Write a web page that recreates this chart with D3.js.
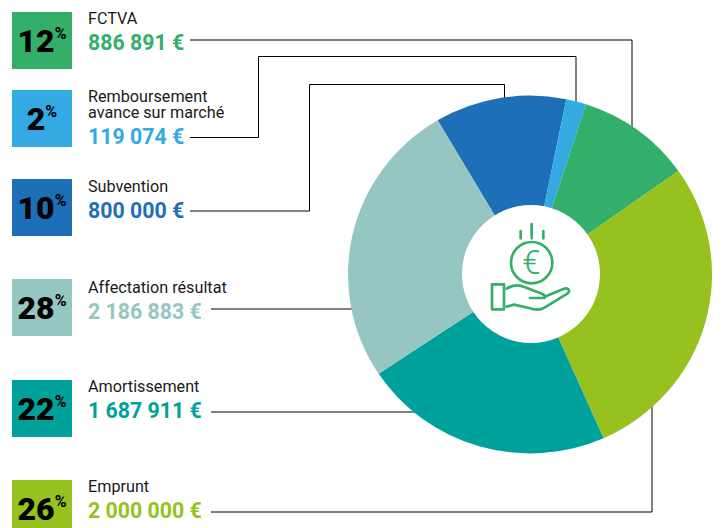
<!DOCTYPE html>
<html>
<head>
<meta charset="utf-8">
<script src="https://cdn.jsdelivr.net/npm/d3@7"></script>
<style>
  html, body { margin: 0; padding: 0; background: #fff; overflow: hidden; }
  text { font-family: Roboto, sans-serif; }
</style>
</head>
<body>
<script>
// legend rows
const labels = [["FCTVA"], ["Remboursement", "avance sur marché"], ["Subvention"], ["Affectation résultat"], ["Amortissement"], ["Emprunt"]];
const amounts = ["886 891 €", "119 074 €", "800 000 €", "2 186 883 €", "1 687 911 €", "2 000 000 €"];
const percents = [12, 2, 10, 28, 22, 26];
const legendColors = ["#33af6a", "#35a9e1", "#1d6fb7", "#95c6c1", "#00a19a", "#96c11f"];

// pie slices, clockwise from the dark blue one (shares)
const sliceShares = [11.67, 1.78, 10.2, 28.2, 22.25, 25.9];
const sliceColors = ["#1d6fb7", "#35a9e1", "#33af6a", "#96c11f", "#00a19a", "#95c6c1"];

const width = 728;
const height = 528;
const svg = d3.select("body").append("svg")
    .attr("width", width)
    .attr("height", height)
    .style("display", "block");

// top of each legend box, then the baselines of its texts
const rowTop = [12, 90, 179, 279, 380, 480];
const labelY = [24, 102, 192, 292.5, 392, 492];
const amountY = [50, 143.5, 217.5, 318.5, 417.5, 517.5];
const boxW = 60;
const boxH = 57;

// leader lines go first, the pie covers their ends
const leaders = [
    [[190, 40], [632, 40], [632, 130]],
    [[190, 137.5], [258.5, 137.5], [258.5, 56.5], [576, 56.5], [576, 110]],
    [[190, 211], [309.5, 211], [309.5, 84.5], [504.5, 84.5], [504.5, 110]],
    [[211, 309], [360, 309]],
    [[211, 412], [425, 412]],
    [[211, 512], [652, 512], [652, 400]]
];
const line = d3.line();
svg.selectAll(".leader")
    .data(leaders)
    .enter()
    .append("path")
    .attr("class", "leader")
    .attr("d", line)
    .attr("fill", "none")
    .attr("stroke", "#000")
    .attr("stroke-width", 1);

// pie
const cx = 530;
const cy = 274.5;
const radius = 182;
const startDeg = -30.5;
const pie = d3.pie().sort(null).startAngle(startDeg * Math.PI / 180).endAngle((360 + startDeg) * Math.PI / 180);
const arc = d3.arc().innerRadius(0).outerRadius(radius);
const pieG = svg.append("g").attr("transform", `translate(${cx},${cy}) scale(1,0.983)`);
pieG.selectAll("path")
    .data(pie(sliceShares))
    .enter()
    .append("path")
    .attr("d", arc)
    .attr("fill", (d, i) => sliceColors[i]);

// white hole
svg.append("circle")
    .attr("cx", 531)
    .attr("cy", 274)
    .attr("r", 69)
    .attr("fill", "#fff");

// icon, coordinates taken from a 3x crop
const icon = svg.append("g")
    .attr("transform", "translate(450,200) scale(0.3333)")
    .attr("fill", "none")
    .attr("stroke", "#33af6a")
    .attr("stroke-width", 8)
    .attr("stroke-linejoin", "round")
    .attr("stroke-linecap", "round");
icon.append("circle").attr("cx", 245).attr("cy", 188).attr("r", 62);
icon.append("path").attr("d", "M212,93V115M245,72V115M280,93V115");
icon.append("rect").attr("x", 126).attr("y", 253).attr("width", 36).attr("height", 75);
icon.append("path").attr("d", "M170,266C185,256 205,252 225,262L262,276C278,281 286,284 284,294L240,294M284,290L342,266C356,262 362,274 352,281L285,322C270,332 255,330 240,325L192,314L170,320");
svg.append("text")
    .attr("x", 531.5)
    .attr("y", 274)
    .attr("text-anchor", "middle")
    .attr("font-size", 33)
    .attr("font-weight", 300)
    .attr("fill", "#33af6a")
    .text("€");

// legend
const rows = svg.selectAll(".row")
    .data(percents)
    .enter()
    .append("g")
    .attr("class", "row");

rows.append("rect")
    .attr("x", 12)
    .attr("y", (d, i) => rowTop[i])
    .attr("width", boxW)
    .attr("height", boxH)
    .attr("fill", (d, i) => legendColors[i]);

const pct = rows.append("text")
    .attr("x", 12 + boxW / 2)
    .attr("y", (d, i) => rowTop[i] + 40)
    .attr("text-anchor", "middle")
    .attr("font-size", 32)
    .attr("font-weight", 900)
    .attr("fill", "#000")
    .text(d => d);
pct.append("tspan")
    .attr("font-size", 16)
    .attr("font-weight", 700)
    .attr("dy", -13)
    .text("%");

rows.each(function(d, i) {
    const g = d3.select(this);
    labels[i].forEach((t, j) => {
        g.append("text")
            .attr("x", 88)
            .attr("y", labelY[i] + j * 16)
            .attr("font-size", 16.2)
            .attr("fill", "#1a1a1a")
            .text(t);
    });
    g.append("text")
        .attr("x", 88)
        .attr("y", amountY[i])
        .attr("font-size", 21.3)
        .attr("font-weight", 700)
        .attr("fill", legendColors[i])
        .text(amounts[i]);
});
</script>
</body>
</html>
